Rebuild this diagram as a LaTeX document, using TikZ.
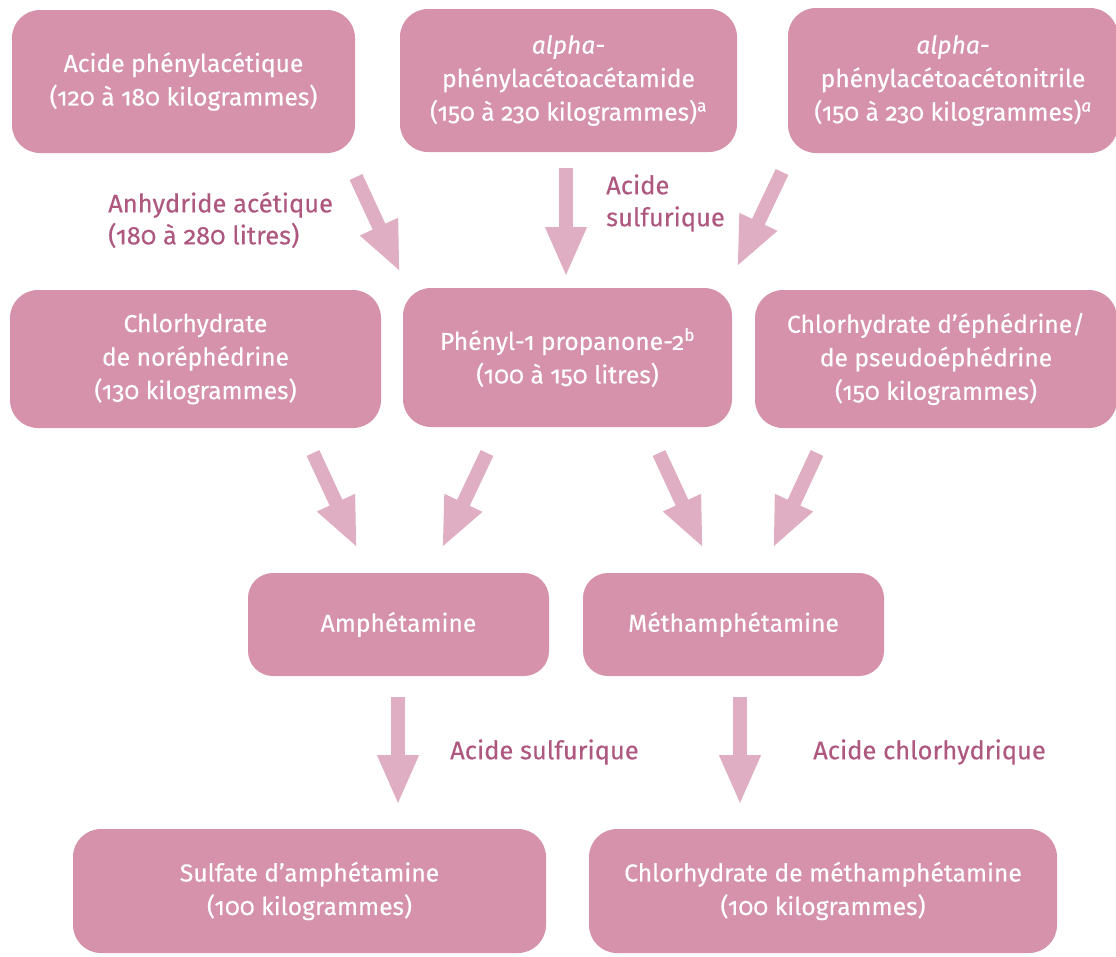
\documentclass[tikz,border=0pt]{standalone}
\usepackage{fontspec}
\setmainfont{Fira Sans}[Numbers=OldStyle, FakeBold=0.35]
\usetikzlibrary{arrows.meta}
\definecolor{boxfill}{HTML}{D592AA}
\definecolor{arrowfill}{HTML}{E0AEC2}
\definecolor{labeltext}{HTML}{AE5880}

\begin{document}
\begin{tikzpicture}[x=1pt,y=-1pt,
  stagebox/.style={fill=boxfill, rounded corners=28pt, text=white, align=center,
    inner sep=0pt, font=\fontsize{24.6}{33.5}\selectfont},
  flow/.style={draw=arrowfill, line width=14pt, -{Triangle[length=50pt,width=38pt]}},
  reagent/.style={text=labeltext, align=left, anchor=west, inner sep=0pt,
    font=\fontsize{25.5}{32}\selectfont}]
\useasboundingbox (0,0) rectangle (1116,956);

% precursors
\node[stagebox, minimum width=343pt, minimum height=143pt] (pac) at (183.5,81.5)
  {Acide phénylacétique\\(120 à 180 kilogrammes)};
\node[stagebox, minimum width=337pt, minimum height=143pt] (apaa) at (568.5,80.5)
  {\textit{alpha}-\\phénylacétoacétamide\\(150 à 230 kilogrammes)\textsuperscript{a}};
\node[stagebox, minimum width=330pt, minimum height=145pt] (apan) at (953,80.5)
  {\textit{alpha}-\\phénylacétoacétonitrile\\(150 à 230 kilogrammes)\textsuperscript{\itshape a}};

% intermediates
\node[stagebox, minimum width=371pt, minimum height=138pt] (nor) at (195.5,359)
  {Chlorhydrate\\de noréphédrine\\(130 kilogrammes)};
\node[stagebox, minimum width=329pt, minimum height=139pt] (p2p) at (567.5,357.5)
  {Phényl-1 propanone-2\textsuperscript{b}\\(100 à 150 litres)};
\node[stagebox, minimum width=362pt, minimum height=138pt] (eph) at (936,359)
  {Chlorhydrate d’éphédrine/\\de pseudoéphédrine\\(150 kilogrammes)};

% bases
\node[stagebox, rounded corners=25pt, minimum width=301pt, minimum height=103pt] (amp) at (398.5,624.5)
  {Amphétamine};
\node[stagebox, rounded corners=25pt, minimum width=301pt, minimum height=103pt] (meth) at (733.5,624.5)
  {Méthamphétamine};

% salts
\node[stagebox, minimum width=473pt, minimum height=124pt] (ampsalt) at (309.5,891)
  {Sulfate d’amphétamine\\(100 kilogrammes)};
\node[stagebox, minimum width=468pt, minimum height=124pt] (methsalt) at (823,891)
  {Chlorhydrate de méthamphétamine\\(100 kilogrammes)};

% reagents
\node[reagent] (anh) at (108,220) {Anhydride acétique\\(180 à 280 litres)};
\node[reagent] (sulf1) at (606,203) {Acide\\sulfurique};
\node[reagent] (sulf2) at (450,752) {Acide sulfurique};
\node[reagent] (hcl) at (813,752) {Acide chlorhydrique};

% arrow ends
\coordinate (pacOut) at (356,177);   \coordinate (p2pInL) at (400,272);
\coordinate (apaaOut) at (566,168);  \coordinate (p2pInC) at (566,277);
\coordinate (apanOut) at (782,172);  \coordinate (p2pInR) at (737,267);
\coordinate (norOut) at (313,453);   \coordinate (ampInL) at (357,548);
\coordinate (p2pOutL) at (487,453);  \coordinate (ampInR) at (442,548);
\coordinate (p2pOutR) at (659,453);  \coordinate (methInL) at (703,548);
\coordinate (ephOut) at (817,453);   \coordinate (methInR) at (773,548);
\coordinate (ampOut) at (398,697);   \coordinate (ampsaltIn) at (398,805);
\coordinate (methOut) at (740,697);  \coordinate (methsaltIn) at (740,805);

% arrows
\draw[flow] (pacOut) -- (p2pInL);
\draw[flow] (apaaOut) -- (p2pInC);
\draw[flow] (apanOut) -- (p2pInR);
\draw[flow] (norOut) -- (ampInL);
\draw[flow] (p2pOutL) -- (ampInR);
\draw[flow] (p2pOutR) -- (methInL);
\draw[flow] (ephOut) -- (methInR);
\draw[flow] (ampOut) -- (ampsaltIn);
\draw[flow] (methOut) -- (methsaltIn);
\end{tikzpicture}
\end{document}
